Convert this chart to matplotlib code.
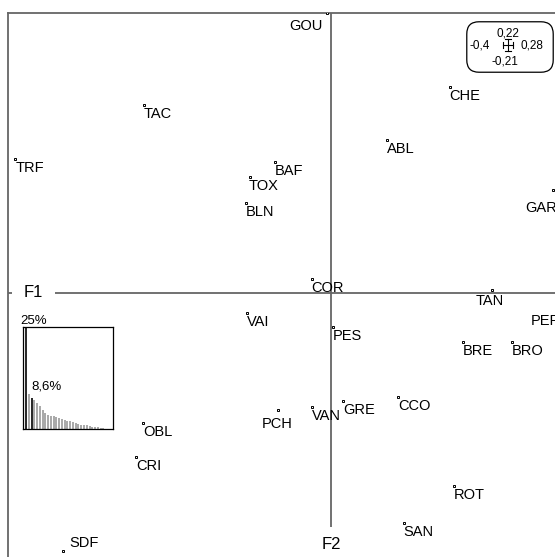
import matplotlib
matplotlib.use("Agg")
import matplotlib.pyplot as plt
from matplotlib.patches import FancyBboxPatch
from matplotlib.lines import Line2D
import matplotlib.transforms as mtransforms

plt.rcParams['font.family'] = ['Liberation Sans', 'DejaVu Sans']

# --- data (scores on F1 / F2) ---
labels = ['GOU', 'CHE', 'TAC', 'ABL', 'TRF', 'BAF', 'TOX', 'BLN', 'GAR', 'COR',
          'TAN', 'VAI', 'PES', 'PER', 'BRE', 'BRO', 'CCO', 'GRE', 'VAN', 'PCH',
          'OBL', 'CRI', 'ROT', 'SAN', 'SDF']
f1 = [-0.005, 0.147, -0.232, 0.069, -0.391, -0.069, -0.100, -0.105, 0.275, -0.024,
      0.199, -0.104, 0.002, 0.283, 0.163, 0.224, 0.083, 0.015, -0.024, -0.066,
      -0.233, -0.241, 0.152, 0.090, -0.332]
f2 = [0.220, 0.162, 0.148, 0.120, 0.105, 0.103, 0.091, 0.071, 0.081, 0.011,
      0.002, -0.016, -0.027, -0.008, -0.039, -0.039, -0.082, -0.085, -0.090, -0.092,
      -0.102, -0.129, -0.152, -0.181, -0.203]

# eigenvalues in percent of total inertia
eig_pct = [25.0, 8.6, 7.6, 7.0, 6.4, 5.6, 4.7, 3.9, 3.5, 3.3,
           3.1, 3.0, 2.7, 2.5, 2.3, 2.0, 1.9, 1.6, 1.5, 1.3,
           1.1, 1.0, 0.9, 0.7, 0.6, 0.5, 0.4, 0.3, 0.2, 0.1]

xmin, xmax = -0.4, 0.28
ymin, ymax = -0.21, 0.22

# label placement: (ha, va, dx, dy) in pixels, default left/top below the point
default_place = ('left', 'top', 0, -2)
special_place = {
    'GOU': ('right', 'top', -4, -6),
    'TAN': ('center', 'top', -2, -4),
    'GAR': ('right', 'top', 4, -11),
    'PER': ('right', 'top', 1, -11),
    'SDF': ('left', 'bottom', 6, 1),
    'PCH': ('center', 'top', 0, -7),
    'TOX': ('left', 'top', -2, -2),
}

W, H = 555, 557
fig = plt.figure(figsize=(W / 100, H / 100), dpi=100)


def fx(px):
    return px / W


def fy(py):
    return 1 - py / H


# main axes: frame from (8,13) running past the right / bottom edges
ax = fig.add_axes([fx(8), fy(560), fx(557) - fx(8), fy(13) - fy(560)])
ax.set_xlim(xmin, xmax)
ax.set_ylim(ymin, ymax)
ax.set_xticks([])
ax.set_yticks([])
for s in ax.spines.values():
    s.set_color('#666666')
    s.set_linewidth(1.3)

ax.axhline(0, color='#666666', lw=1.3, zorder=1)
ax.axvline(0, color='#666666', lw=1.3, zorder=1)

ax.plot(f1, f2, ls='none', marker='s', ms=1.9, mfc='white', mec='black', mew=0.7, zorder=3)

for lab, x, y in zip(labels, f1, f2):
    ha, va, dx, dy = special_place.get(lab, default_place)
    ax.annotate(lab, (x, y), xytext=(dx, dy), textcoords='offset pixels',
                ha=ha, va=va, fontsize=10.5, color='black', annotation_clip=False, zorder=4)

# axis names
trans_x = mtransforms.blended_transform_factory(ax.transAxes, ax.transData)
ax.text(0.047, 0, 'F1', transform=trans_x, ha='center', va='center', fontsize=12,
        bbox=dict(boxstyle='square,pad=0.7', fc='white', ec='none'), zorder=2)
trans_y = mtransforms.blended_transform_factory(ax.transData, ax.transAxes)
ax.text(0, 0.029, 'F2', transform=trans_y, ha='center', va='center', fontsize=12,
        bbox=dict(boxstyle='square,pad=0.55', fc='white', ec='none'), zorder=2)

# eigenvalue inset
axe = fig.add_axes([fx(23), fy(429), fx(113) - fx(23), fy(327) - fy(429)])
n = len(eig_pct)
pos = list(range(n))
cols = ['black' if i in (0, 2) else '#9a9a9a' for i in pos]
axe.vlines(pos, 0, eig_pct, colors=cols, lw=1.2)
axe.set_xlim(-1.1, n + 1.5)
axe.set_ylim(0, eig_pct[0])
axe.set_xticks([])
axe.set_yticks([])
for s in axe.spines.values():
    s.set_color('black')
    s.set_linewidth(0.9)
axe.patch.set_facecolor('white')
axe.annotate('25%', (0, eig_pct[0]), xytext=(-6, 0), textcoords='offset pixels',
             ha='left', va='bottom', fontsize=9.5, annotation_clip=False)
axe.annotate(f'{eig_pct[1]:.1f}%'.replace('.', ','), (1, eig_pct[1]), xytext=(3, 1),
             textcoords='offset pixels', ha='left', va='bottom', fontsize=9.5)


# scale box (limits of the plot window)
def fmt(v):
    return f'{v:g}'.replace('.', ',')


box = FancyBboxPatch((fx(469), fy(70)), fx(551) - fx(469), fy(24) - fy(70),
                     boxstyle='round,pad=0.004,rounding_size=0.022',
                     transform=fig.transFigure, fc='white', ec='black', lw=0.9)
fig.add_artist(box)
fig.text(fx(508), fy(33), fmt(ymax), ha='center', va='center', fontsize=8.5)
fig.text(fx(480), fy(45), fmt(xmin), ha='center', va='center', fontsize=8.5)
fig.text(fx(532), fy(45), fmt(xmax), ha='center', va='center', fontsize=8.5)
fig.text(fx(505), fy(62), fmt(ymin), ha='center', va='center', fontsize=8.5)
cx, cy = 508, 45
cross = [((cx - 5, cx + 5), (cy, cy)), ((cx - 5, cx - 5), (cy - 3, cy + 3)),
         ((cx + 5, cx + 5), (cy - 3, cy + 3)), ((cx, cx), (cy - 6, cy + 6)),
         ((cx - 3, cx + 3), (cy - 6, cy - 6)), ((cx - 3, cx + 3), (cy + 6, cy + 6))]
for xs, ys in cross:
    fig.add_artist(Line2D([fx(v) for v in xs], [fy(v) for v in ys],
                          transform=fig.transFigure, color='black', lw=0.8))

fig.savefig('out.png', dpi=100)
